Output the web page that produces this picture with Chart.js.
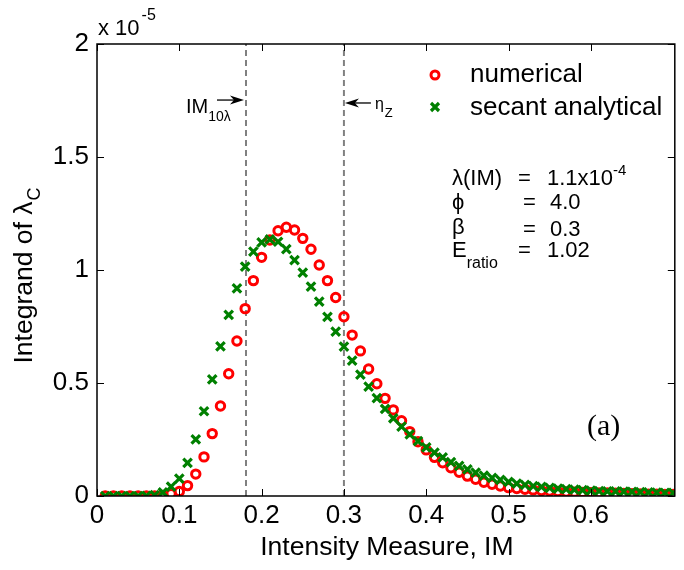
<!DOCTYPE html>
<html>
<head>
<meta charset="utf-8">
<title>Integrand of lambda_C</title>
<script src="https://cdn.jsdelivr.net/npm/chart.js@4/dist/chart.umd.min.js"></script>
<style>
  html, body { margin: 0; padding: 0; background: #ffffff; }
  #wrap { width: 684px; height: 570px; }
</style>
</head>
<body>
<div id="wrap"><canvas id="chart" width="684" height="570"></canvas></div>
<script>
// Fonts used everywhere (Helvetica look-alike)
const FONT = "'Liberation Sans', Arial, Helvetica, sans-serif";
const SERIF = "'Liberation Serif', 'Times New Roman', serif";

// Intensity measure IM (x values)
const imValues = [
  0.01, 0.02, 0.03, 0.04, 0.05, 0.06, 0.07, 0.08, 0.09, 0.10,
  0.11, 0.12, 0.13, 0.14, 0.15, 0.16, 0.17, 0.18, 0.19, 0.20,
  0.21, 0.22, 0.23, 0.24, 0.25, 0.26, 0.27, 0.28, 0.29, 0.30,
  0.31, 0.32, 0.33, 0.34, 0.35, 0.36, 0.37, 0.38, 0.39, 0.40,
  0.41, 0.42, 0.43, 0.44, 0.45, 0.46, 0.47, 0.48, 0.49, 0.50,
  0.51, 0.52, 0.53, 0.54, 0.55, 0.56, 0.57, 0.58, 0.59, 0.60,
  0.61, 0.62, 0.63, 0.64, 0.65, 0.66, 0.67, 0.68, 0.69, 0.70
];

// Integrand values, in units of 1e-5
const numerical = [
  0.000, 0.000, 0.000, 0.000, 0.000, 0.000, 0.000, 0.002, 0.010, 0.020,
  0.046, 0.097, 0.173, 0.276, 0.398, 0.541, 0.686, 0.829, 0.953, 1.056,
  1.133, 1.174, 1.189, 1.177, 1.140, 1.092, 1.022, 0.953, 0.878, 0.793,
  0.712, 0.642, 0.562, 0.497, 0.432, 0.381, 0.333, 0.285, 0.240, 0.204,
  0.171, 0.147, 0.125, 0.105, 0.088, 0.074, 0.061, 0.052, 0.044, 0.037,
  0.033, 0.030, 0.027, 0.024, 0.022, 0.020, 0.018, 0.017, 0.016, 0.015,
  0.014, 0.013, 0.012, 0.011, 0.010, 0.009, 0.008, 0.008, 0.007, 0.007
];

const secantAnalytical = [
  0.000, 0.000, 0.000, 0.000, 0.000, 0.001, 0.004, 0.016, 0.041, 0.077,
  0.147, 0.251, 0.375, 0.516, 0.662, 0.801, 0.919, 1.015, 1.081, 1.122,
  1.136, 1.125, 1.092, 1.044, 0.988, 0.926, 0.860, 0.793, 0.727, 0.661,
  0.599, 0.537, 0.484, 0.433, 0.385, 0.344, 0.307, 0.273, 0.243, 0.215,
  0.192, 0.171, 0.150, 0.133, 0.118, 0.103, 0.090, 0.080, 0.071, 0.062,
  0.055, 0.049, 0.044, 0.040, 0.036, 0.033, 0.030, 0.028, 0.026, 0.024,
  0.022, 0.021, 0.020, 0.019, 0.018, 0.017, 0.016, 0.015, 0.014, 0.014
];

// Tick values
const xTickValues = [0, 0.1, 0.2, 0.3, 0.4, 0.5, 0.6];
const yTickValues = [0, 0.5, 1, 1.5, 2];

// Marker lines
const imTenLambda = 0.181;
const etaZ = 0.3;

function toPoints(xs, ys) {
  return xs.map((x, i) => ({ x: x, y: ys[i] }));
}

function vLine(xv) {
  return [{ x: xv, y: yTickValues[0] }, { x: xv, y: yTickValues[yTickValues.length - 1] }];
}

function drawText(ctx, str, x, y, size, family, align) {
  ctx.font = size + 'px ' + (family || FONT);
  ctx.textAlign = align || 'left';
  ctx.textBaseline = 'alphabetic';
  ctx.fillText(str, x, y);
  return ctx.measureText(str).width;
}

// arrow from tail x0 to tip x1 on a horizontal line
function drawArrow(ctx, x0, y, x1) {
  const dir = Math.sign(x1 - x0);
  ctx.lineWidth = 1.3;
  ctx.beginPath();
  ctx.moveTo(x0, y);
  ctx.lineTo(x1 - dir * 8, y);
  ctx.stroke();
  ctx.beginPath();
  ctx.moveTo(x1, y);
  ctx.lineTo(x1 - dir * 14, y - 4.5);
  ctx.lineTo(x1 - dir * 10, y);
  ctx.lineTo(x1 - dir * 14, y + 4.5);
  ctx.closePath();
  ctx.fill();
}

// Frame, inward ticks, titles, legend and annotations
const decorPlugin = {
  id: 'decor',
  afterDraw(chart) {
    const ctx = chart.ctx;
    const a = chart.chartArea;
    const xs = chart.scales.x;
    const ys = chart.scales.y;
    ctx.save();
    ctx.strokeStyle = '#000';
    ctx.fillStyle = '#000';

    // box
    ctx.lineWidth = 1.5;
    ctx.strokeRect(a.left, a.top, a.right - a.left, a.bottom - a.top);

    // inward ticks
    ctx.lineWidth = 1;
    ctx.beginPath();
    xTickValues.forEach(v => {
      const px = Math.round(xs.getPixelForValue(v)) + 0.5;
      ctx.moveTo(px, a.bottom); ctx.lineTo(px, a.bottom - 7);
      ctx.moveTo(px, a.top); ctx.lineTo(px, a.top + 7);
    });
    yTickValues.forEach(v => {
      const py = Math.round(ys.getPixelForValue(v)) + 0.5;
      ctx.moveTo(a.left, py); ctx.lineTo(a.left + 7, py);
      ctx.moveTo(a.right, py); ctx.lineTo(a.right - 7, py);
    });
    ctx.stroke();

    // exponent of y axis
    let w = drawText(ctx, 'x 10', a.left + 1, a.top - 9, 22);
    drawText(ctx, '-5', a.left + 1 + w + 2, a.top - 24, 16);

    // x title
    drawText(ctx, 'Intensity Measure, IM', (a.left + a.right) / 2 + 1, a.bottom + 59, 26.5, FONT, 'center');

    // y title (rotated, with subscript)
    ctx.save();
    ctx.translate(32, (a.top + a.bottom) / 2 + 6);
    ctx.rotate(-Math.PI / 2);
    ctx.font = '26.5px ' + FONT;
    const mainW = ctx.measureText('Integrand of \u03bb').width;
    ctx.font = '18px ' + FONT;
    const subW = ctx.measureText('C').width;
    const start = -(mainW + subW) / 2;
    drawText(ctx, 'Integrand of \u03bb', start, 0, 26.5);
    drawText(ctx, 'C', start + mainW + 1, 8, 18);
    ctx.restore();

    // dashed-line labels with arrows
    const lx1 = xs.getPixelForValue(imTenLambda);
    const lx2 = xs.getPixelForValue(etaZ);
    const ay1 = ys.getPixelForValue(1.752);
    const ay2 = ys.getPixelForValue(1.739);
    drawArrow(ctx, lx1 - 29, ay1, lx1 - 2);
    w = drawText(ctx, 'IM', lx1 - 60, ay1 + 13, 20);
    drawText(ctx, '10\u03bb', lx1 - 60 + w, ay1 + 21, 14);
    drawArrow(ctx, lx2 + 27, ay2, lx2 + 1);
    w = drawText(ctx, '\u03b7', lx2 + 31, ay2 + 6, 16);
    drawText(ctx, 'Z', lx2 + 31 + w + 1, ay2 + 14, 13);

    // legend
    const lgX = a.left + 338;
    ctx.strokeStyle = '#ff0000';
    ctx.lineWidth = 3;
    ctx.beginPath();
    ctx.arc(lgX, a.top + 31, 4, 0, Math.PI * 2);
    ctx.stroke();
    ctx.strokeStyle = '#008000';
    ctx.lineWidth = 3.2;
    ctx.beginPath();
    ctx.moveTo(lgX - 4, a.top + 59); ctx.lineTo(lgX + 4, a.top + 67);
    ctx.moveTo(lgX - 4, a.top + 67); ctx.lineTo(lgX + 4, a.top + 59);
    ctx.stroke();
    ctx.fillStyle = '#000';
    drawText(ctx, 'numerical', lgX + 35, a.top + 38, 26);
    drawText(ctx, 'secant analytical', lgX + 35, a.top + 71, 26);

    // parameter block
    const px0 = a.left + 355;
    drawText(ctx, '\u03bb(IM)', px0, 185, 22);
    drawText(ctx, '=', px0 + 66, 185, 22);
    w = drawText(ctx, '1.1x10', px0 + 95, 185, 22);
    drawText(ctx, '-4', px0 + 95 + w, 175, 15);
    drawText(ctx, '\u03d5', px0, 209, 22);
    drawText(ctx, '=', px0 + 71, 209, 22);
    drawText(ctx, '4.0', px0 + 98, 209, 22);
    drawText(ctx, '\u03b2', px0, 234, 22);
    drawText(ctx, '=', px0 + 71, 236, 22);
    drawText(ctx, '0.3', px0 + 98, 236, 22);
    w = drawText(ctx, 'E', px0, 257, 22);
    drawText(ctx, 'ratio', px0 + w, 268, 16);
    drawText(ctx, '=', px0 + 66, 257, 22);
    drawText(ctx, '1.02', px0 + 95, 257, 22);

    // panel label
    drawText(ctx, '(a)', a.left + 490, 435, 30, SERIF);

    ctx.restore();
  }
};

const ctx = document.getElementById('chart').getContext('2d');

const chart = new Chart(ctx, {
  type: 'scatter',
  data: {
    datasets: [
      {
        label: 'numerical',
        data: toPoints(imValues, numerical),
        pointStyle: 'circle',
        pointRadius: 4.2,
        pointBorderWidth: 3,
        borderColor: '#ff0000',
        backgroundColor: 'rgba(0,0,0,0)',
        order: 2
      },
      {
        label: 'secant analytical',
        data: toPoints(imValues, secantAnalytical),
        pointStyle: 'crossRot',
        pointRadius: 6,
        pointBorderWidth: 3.2,
        borderColor: '#008000',
        backgroundColor: '#008000',
        order: 1
      },
      {
        type: 'line',
        label: 'IM10',
        data: vLine(imTenLambda),
        borderColor: '#808080',
        borderWidth: 2,
        borderDash: [6, 4],
        pointRadius: 0,
        order: 3
      },
      {
        type: 'line',
        label: 'etaZ',
        data: vLine(etaZ),
        borderColor: '#808080',
        borderWidth: 2,
        borderDash: [6, 4],
        pointRadius: 0,
        order: 3
      }
    ]
  },
  options: {
    responsive: false,
    animation: false,
    layout: { padding: { top: 44, right: 2, left: 0, bottom: 0 } },
    plugins: {
      legend: { display: false },
      tooltip: { enabled: false }
    },
    scales: {
      x: {
        type: 'linear',
        min: 0,
        max: 0.702,
        afterBuildTicks: scale => { scale.ticks = xTickValues.map(v => ({ value: v })); },
        afterFit: scale => { scale.height = 74; },
        grid: { display: false, drawTicks: false },
        border: { display: false },
        ticks: {
          padding: 4,
          color: '#000',
          font: { family: FONT, size: 26 },
          maxRotation: 0,
          callback: v => String(Math.round(v * 10) / 10)
        }
      },
      y: {
        type: 'linear',
        min: 0,
        max: 2,
        afterBuildTicks: scale => { scale.ticks = yTickValues.map(v => ({ value: v })); },
        afterFit: scale => { scale.width = 97; },
        grid: { display: false, drawTicks: false },
        border: { display: false },
        ticks: {
          padding: 8,
          color: '#000',
          font: { family: FONT, size: 26 },
          callback: v => String(v)
        }
      }
    }
  },
  plugins: [decorPlugin]
});
</script>
</body>
</html>
